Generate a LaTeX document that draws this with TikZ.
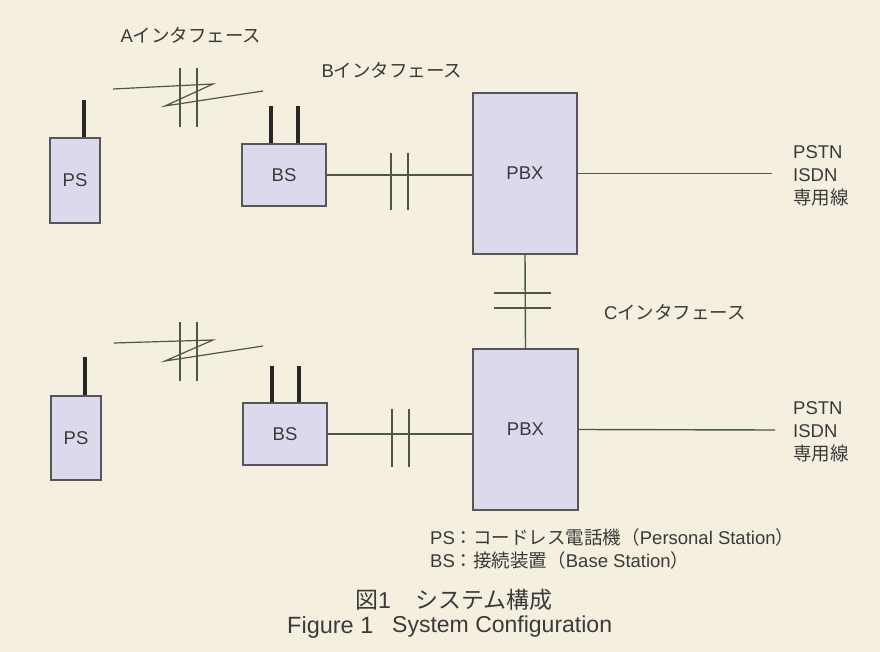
\documentclass[tikz,border=0pt]{standalone}
\usepackage{fontspec}
\setmainfont{Liberation Sans}
\newfontfamily\jp{Noto Sans CJK JP}
\definecolor{bgcol}{HTML}{F4EFDF}
\definecolor{boxfill}{HTML}{DDD9EC}
\definecolor{boxline}{HTML}{55555A}
\definecolor{wire}{HTML}{4B5944}
\definecolor{txt}{HTML}{3A3A3A}
\begin{document}
\begin{tikzpicture}[x=1pt,y=-1pt,
  every node/.style={text=txt, font=\fontsize{18.5}{23}\selectfont},
  unit/.style={draw=boxline, line width=1.3pt, fill=boxfill, inner sep=0pt},
  wireline/.style={draw=wire, line width=1.4pt},
  antenna/.style={draw=black!85, line width=3.6pt},
  lbl/.style={inner sep=0pt, align=left}]
\fill[bgcol] (0,0) rectangle (880,652);
\useasboundingbox (0,0) rectangle (880,652);

% ---- units ----
\node[unit, minimum width=50pt, minimum height=85pt] (PS1) at (75,180.5) {PS};
\node[unit, minimum width=84pt, minimum height=62pt] (BS1) at (284,175) {BS};
\node[unit, minimum width=104pt, minimum height=161pt] (PBX1) at (525,173.5) {PBX};
\node[unit, minimum width=50pt, minimum height=84pt] (PS2) at (76,438) {PS};
\node[unit, minimum width=84pt, minimum height=62pt] (BS2) at (285,434) {BS};
\node[unit, minimum width=105pt, minimum height=161pt] (PBX2) at (525.5,429.5) {PBX};

% ---- antennas ----
\draw[antenna] ([xshift=9pt]PS1.north) -- ++(0,-37);
\draw[antenna] ([xshift=9pt]PS2.north) -- ++(0,-38);
\draw[antenna] ([xshift=-13pt]BS1.north) -- ++(0,-37);
\draw[antenna] ([xshift=14pt]BS1.north) -- ++(0,-37);
\draw[antenna] ([xshift=-13pt]BS2.north) -- ++(0,-36);
\draw[antenna] ([xshift=14pt]BS2.north) -- ++(0,-36);

% ---- B interface links ----
\draw[wireline] (BS1.east) -- (BS1.east -| PBX1.west);
\draw[wireline] (391,153) -- (391,210) (408,153) -- (408,210);
\draw[wireline] (BS2.east) -- (BS2.east -| PBX2.west);
\draw[wireline] (392,409) -- (392,467) (409,409) -- (409,467);

% ---- C interface link ----
\draw[wireline] (PBX1.south) -- (PBX2.north);
\draw[wireline] (494,293) -- (551,293) (494,308) -- (551,308);

% ---- external lines ----
\coordinate (E1) at (772,173.5);
\coordinate (E2) at (775,430);
\draw[wireline] (PBX1.east) -- (E1);
\draw[wireline] (PBX2.east) -- (E2);
\node[lbl, anchor=west] (X1) at (793,176) {PSTN\\ISDN\\{\jp 専用線}};
\node[lbl, anchor=west] (X2) at (793,432) {PSTN\\ISDN\\{\jp 専用線}};

% ---- A interface (radio) symbols ----
\draw[wireline, line width=1.2pt, line join=miter] (113,89) -- (213,84) -- (165,106) -- (263,91);
\draw[wireline, line width=1.2pt] (180,68) -- (180,127) (197,68) -- (197,127);
\draw[wireline, line width=1.2pt, line join=miter] (114,343) -- (213,340) -- (165,361) -- (263,346);
\draw[wireline, line width=1.2pt] (180,322) -- (180,381) (197,322) -- (197,381);

% ---- interface labels ----
\node[lbl] (LA) at (191,35) {A{\jp インタフェース}};
\node[lbl] (LB) at (392,70) {B{\jp インタフェース}};
\node[lbl] (LC) at (675,312) {C{\jp インタフェース}};

% ---- legend ----
\node[lbl, anchor=west] (L1) at (430,537) {PS{\jp ：コードレス電話機（}Personal Station{\jp ）}};
\node[lbl, anchor=west] (L2) at (430,560) {BS{\jp ：接続装置（}Base Station{\jp ）}};

% ---- caption ----
\node[lbl, anchor=west, font=\fontsize{23}{28}\selectfont] (C1) at (355,600) {{\jp 図}1};
\node[lbl, anchor=west, font=\fontsize{23}{28}\selectfont] (C2) at (415,600) {{\jp システム構成}};
\node[lbl, anchor=west, font=\fontsize{23.5}{28}\selectfont] (C3) at (287,627) {Figure 1};
\node[lbl, anchor=west, font=\fontsize{23}{28}\selectfont] (C4) at (392,627) {System Configuration};
\end{tikzpicture}
\end{document}
